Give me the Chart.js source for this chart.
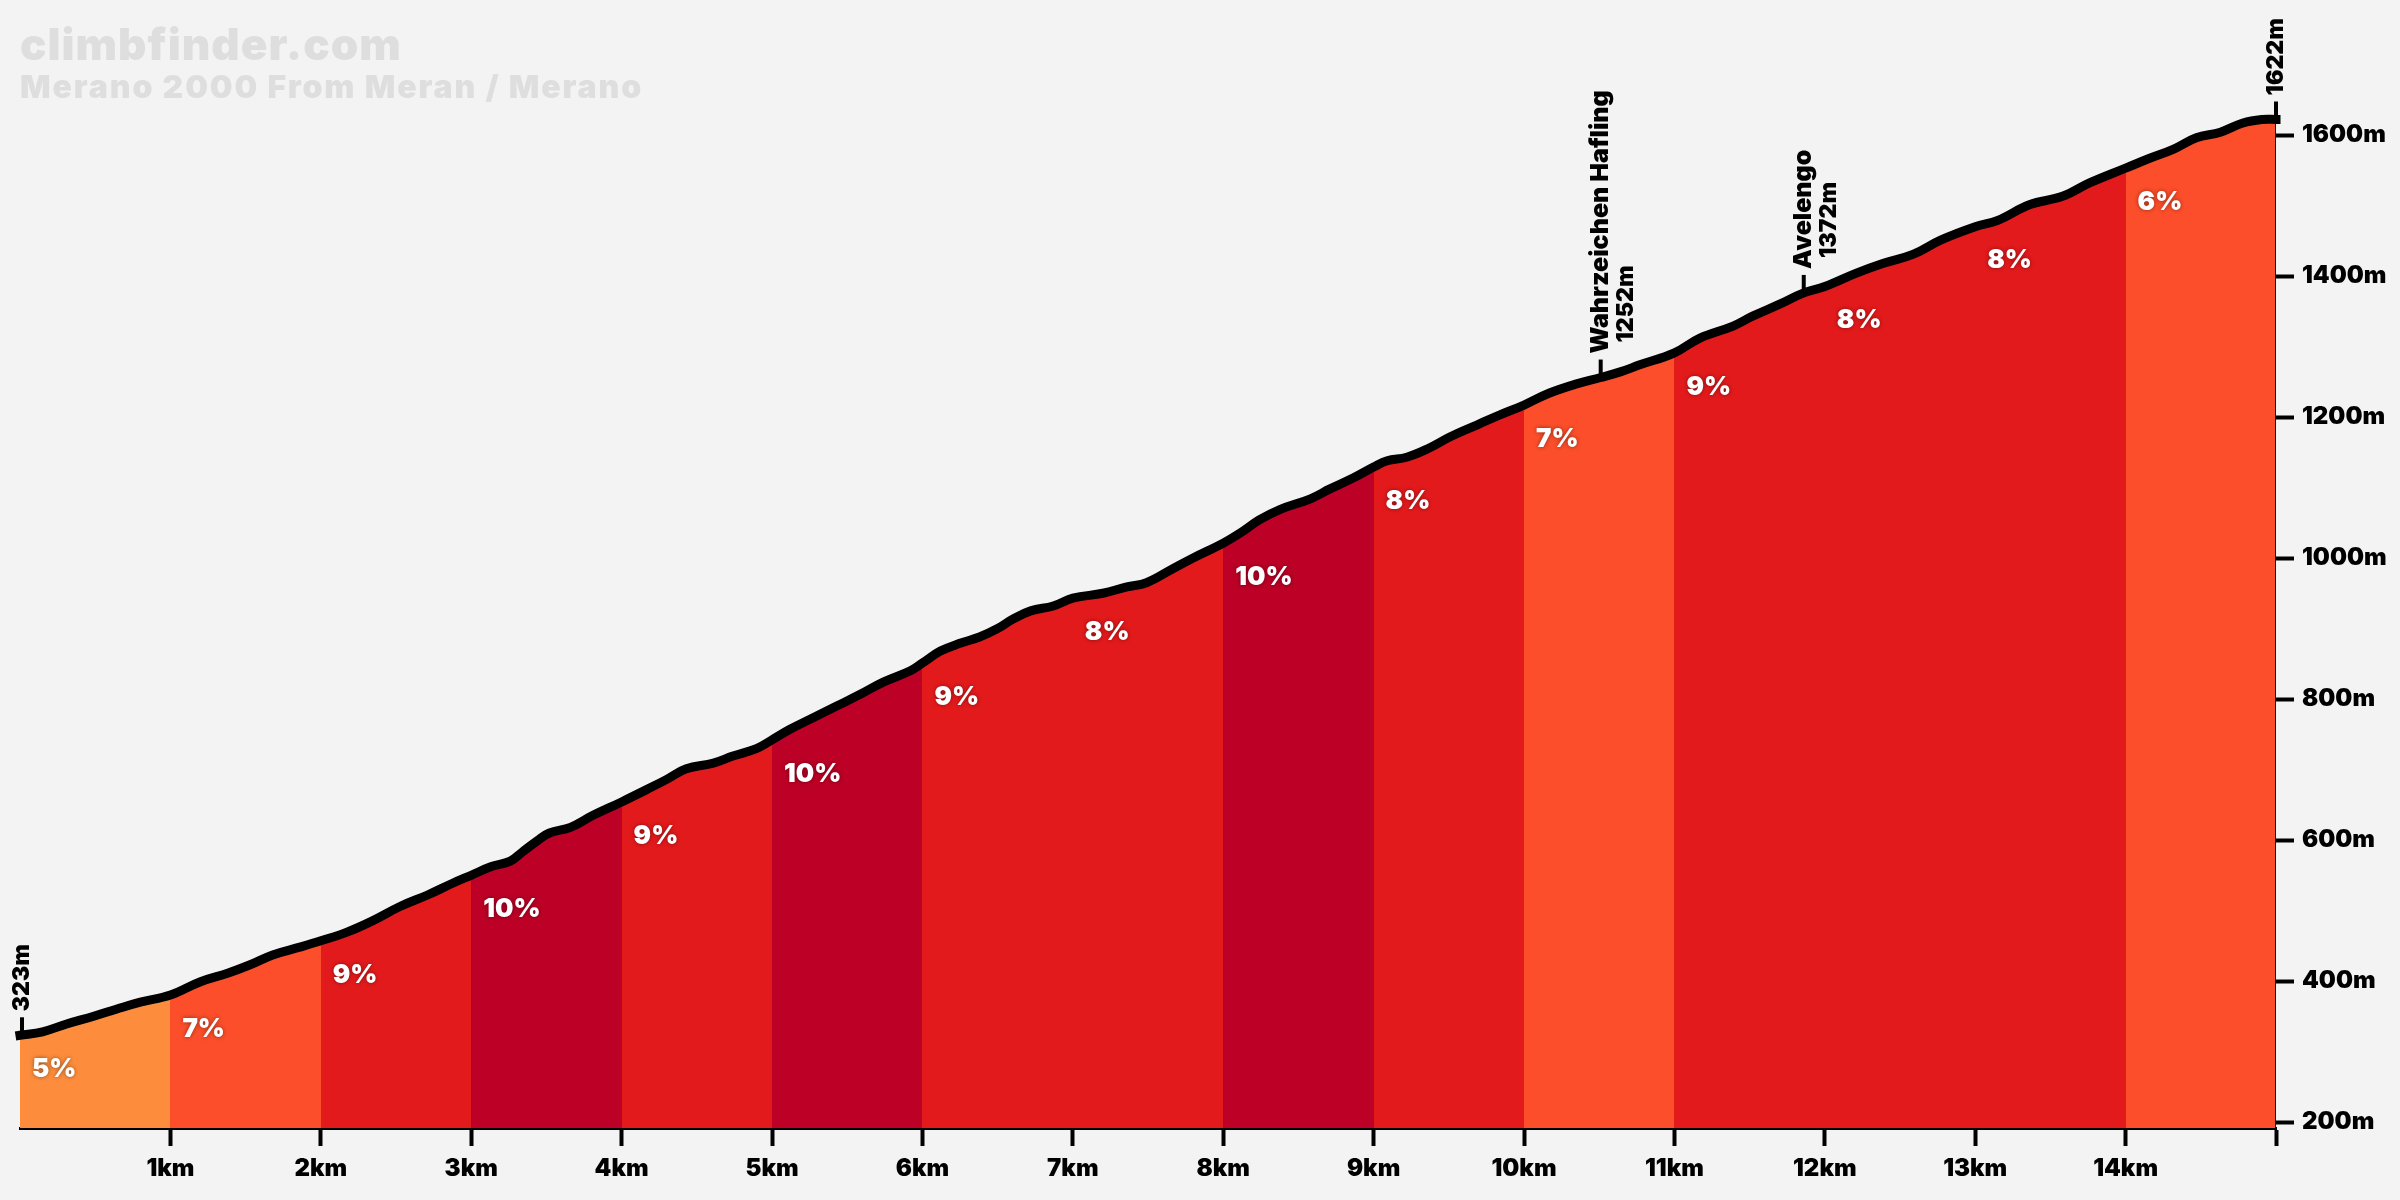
<!DOCTYPE html>
<html>
<head>
<meta charset="utf-8">
<title>climbfinder.com</title>
<style>
  html, body { margin: 0; padding: 0; background: #f3f3f3; }
  canvas { display: block; }
</style>
<script src="https://cdn.jsdelivr.net/npm/chart.js@4/dist/chart.umd.min.js"></script>
</head>
<body>
<canvas id="myChart" width="2400" height="1200"></canvas>
<script>
const distanceKm = [0, 0.15, 0.31, 0.49, 0.64, 0.8, 1, 1.2, 1.38, 1.53, 1.68, 1.86, 2, 2.17, 2.34, 2.53, 2.71, 2.88, 3,
  3.13, 3.26, 3.34, 3.44, 3.52, 3.66, 3.81, 4, 4.19, 4.3, 4.43, 4.61, 4.74, 4.9, 5, 5.12, 5.27, 5.43, 5.59, 5.74, 5.92, 6,
  6.12, 6.25, 6.38, 6.5, 6.6, 6.72, 6.87, 7, 7.2, 7.36, 7.49, 7.65, 7.8, 8, 8.11, 8.24, 8.38, 8.58, 8.71, 8.86, 9,
  9.09, 9.22, 9.36, 9.51, 9.69, 9.84, 10, 10.17, 10.35, 10.51, 10.64, 10.77, 11, 11.17, 11.39, 11.52, 11.7, 11.86,
  12, 12.21, 12.39, 12.59, 12.77, 13, 13.15, 13.36, 13.58, 13.76, 14, 14.16, 14.32, 14.47, 14.63, 14.78, 14.91, 15];
const elevation = [323, 328, 339, 350, 360, 370, 380, 399, 411, 423, 437, 448, 457, 469, 485, 506, 522, 539, 550,
  562, 570, 583, 599, 610, 618, 635, 654, 674, 686, 701, 709, 719, 730, 742, 757, 773, 790, 807, 824, 840, 851,
  868, 879, 888, 900, 913, 925, 932, 943, 950, 959, 965, 983, 1000, 1021, 1035, 1054, 1069, 1084, 1098, 1113, 1129,
  1138, 1143, 1155, 1172, 1189, 1203, 1217, 1234, 1247, 1256, 1264, 1274, 1291, 1312, 1329, 1343, 1360, 1376,
  1385, 1404, 1418, 1431, 1451, 1470, 1479, 1501, 1513, 1532, 1553, 1567, 1580, 1596, 1604, 1617, 1622, 1622];

// one gradient per km
const gradePerKm = [5, 7, 9, 10, 9, 10, 9, 8, 10, 8, 7, 9, 8, 8, 6];
const gradeColors = { 5: '#fd8d3c', 6: '#fc4e2a', 7: '#fc4e2a', 8: '#e31a1c', 9: '#e31a1c', 10: '#bd0026' };

const kmTicks = [1, 2, 3, 4, 5, 6, 7, 8, 9, 10, 11, 12, 13, 14, 15];
const elevationTicks = [200, 400, 600, 800, 1000, 1200, 1400, 1600];

const titleText = 'climbfinder.com';
const subtitleText = 'Merano 2000 From Meran / Merano';

const markerKm = [0, 10.51, 11.86, 15];
const markerElevation = [323, 1256, 1376, 1622];
const markerName = ['', 'Wahrzeichen Hafling', 'Avelengo', ''];
const markerHeight = ['323m', '1252m', '1372m', '1622m'];

const FONT = 'Inter, "Noto Sans", sans-serif';

function fillGradient(context) {
  const chart = context.chart;
  const area = chart.chartArea;
  if (!area) return gradeColors[8];
  const g = chart.ctx.createLinearGradient(area.left, 0, area.right, 0);
  gradePerKm.forEach((grade, i) => {
    g.addColorStop(i / gradePerKm.length, gradeColors[grade]);
    g.addColorStop((i + 1) / gradePerKm.length, gradeColors[grade]);
  });
  return g;
}

const annotations = {
  id: 'annotations',
  afterDatasetsDraw(chart) {
    const ctx = chart.ctx;
    const x = chart.scales.x;
    const y = chart.scales.y;

    ctx.save();

    // gradient labels
    ctx.font = '900 26px ' + FONT;
    ctx.fillStyle = '#fff';
    ctx.textAlign = 'left';
    ctx.textBaseline = 'middle';
    ctx.shadowColor = 'rgba(0,0,0,0.45)';
    ctx.shadowBlur = 4;
    gradePerKm.forEach((grade, i) => {
      const idx = distanceKm.indexOf(i);
      ctx.fillText(grade + '%', x.getPixelForValue(i) + 12, y.getPixelForValue(elevation[idx]) + 34);
    });
    ctx.shadowColor = 'transparent';
    ctx.shadowBlur = 0;

    // markers
    ctx.fillStyle = '#000';
    ctx.strokeStyle = '#000';
    ctx.lineWidth = 4;
    markerKm.forEach((km, i) => {
      const px = x.getPixelForValue(km) + (km === 0 ? 2 : 0);
      const py = y.getPixelForValue(markerElevation[i]);
      ctx.beginPath();
      ctx.moveTo(px, py);
      ctx.lineTo(px, py - 18);
      ctx.stroke();

      ctx.save();
      ctx.translate(px, py - 24);
      ctx.rotate(-Math.PI / 2);
      ctx.textBaseline = 'middle';
      if (markerName[i]) {
        ctx.font = '900 25px ' + FONT;
        ctx.fillText(markerName[i], 0, 0);
        ctx.font = '900 23px ' + FONT;
        ctx.fillText(markerHeight[i], 11, 25);
      } else {
        ctx.font = '900 23px ' + FONT;
        ctx.fillText(markerHeight[i], 0, 0);
      }
      ctx.restore();
    });

    // watermark
    ctx.fillStyle = '#dedede';
    ctx.textBaseline = 'alphabetic';
    ctx.letterSpacing = '1px';
    ctx.font = '900 44px ' + FONT;
    ctx.fillText(titleText, 20, 60);
    ctx.letterSpacing = '1.9px';
    ctx.font = '900 32px ' + FONT;
    ctx.fillText(subtitleText, 20, 98);

    ctx.restore();
  }
};

const background = {
  id: 'background',
  beforeDraw(chart) {
    chart.ctx.save();
    chart.ctx.fillStyle = '#f3f3f3';
    chart.ctx.fillRect(0, 0, chart.width, chart.height);
    chart.ctx.restore();
  }
};

new Chart(document.getElementById('myChart'), {
  type: 'line',
  data: {
    datasets: [
      {
        // right hand edge of the profile
        data: [{ x: 15, y: 191.5 }, { x: 15, y: elevation[elevation.length - 1] }],
        borderColor: '#000',
        borderWidth: 2,
        pointRadius: 0,
        fill: false,
        order: 0
      },
      {
        data: distanceKm.map((km, i) => ({ x: km, y: elevation[i] })),
        borderColor: '#000',
        borderWidth: 9,
        borderCapStyle: 'square',
        borderJoinStyle: 'round',
        backgroundColor: fillGradient,
        tension: 0.4,
        pointRadius: 0,
        fill: 'start',
        clip: false,
        order: 1
      }
    ]
  },
  options: {
    responsive: false,
    devicePixelRatio: 1,
    animation: false,
    layout: { padding: { left: 20, right: 0, top: 0, bottom: 0 } },
    plugins: { legend: { display: false }, tooltip: { enabled: false } },
    scales: {
      x: {
        type: 'linear',
        min: 0,
        max: 15,
        grid: {
          drawOnChartArea: false,
          color: '#000',
          tickLength: 18,
          tickWidth: 4
        },
        border: { color: '#000', width: 3 },
        afterBuildTicks: scale => { scale.ticks = kmTicks.map(v => ({ value: v })); },
        afterFit: scale => {
          scale.height = 72;
          scale.paddingLeft = 0;
          scale.paddingRight = 0;
        },
        ticks: {
          autoSkip: false,
          maxRotation: 0,
          padding: 8,
          color: '#000',
          font: { family: FONT, size: 24, weight: '900' },
          callback: v => (v < 15 ? v + 'km' : '')
        }
      },
      y: {
        position: 'right',
        min: 191.5,
        max: 1791.5,
        grid: {
          drawOnChartArea: false,
          color: '#000',
          tickLength: 18,
          tickWidth: 4
        },
        border: { display: false },
        afterBuildTicks: scale => { scale.ticks = elevationTicks.map(v => ({ value: v })); },
        afterFit: scale => {
          scale.width = 124;
          scale.paddingTop = 0;
          scale.paddingBottom = 0;
        },
        ticks: {
          autoSkip: false,
          padding: 8,
          color: '#000',
          font: { family: FONT, size: 24, weight: '900' },
          callback: v => v + 'm'
        }
      }
    }
  },
  plugins: [background, annotations]
});
</script>
</body>
</html>
